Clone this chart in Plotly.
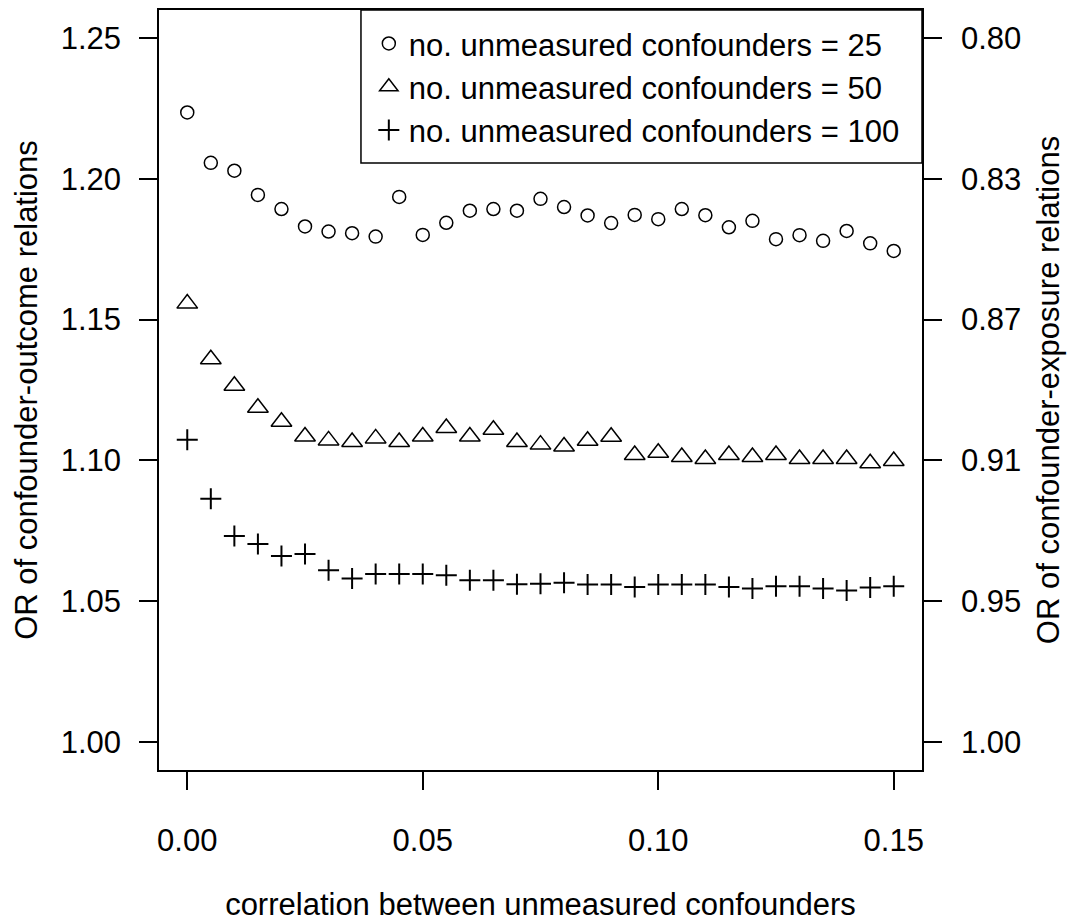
import plotly.graph_objects as go

# correlation between unmeasured confounders
corr = [0.000, 0.005, 0.010, 0.015, 0.020, 0.025, 0.030, 0.035, 0.040, 0.045,
        0.050, 0.055, 0.060, 0.065, 0.070, 0.075, 0.080, 0.085, 0.090, 0.095,
        0.100, 0.105, 0.110, 0.115, 0.120, 0.125, 0.130, 0.135, 0.140, 0.145, 0.150]

# OR of confounder-outcome relations
or_25 = [1.2236, 1.2057, 1.2029, 1.1943, 1.1893, 1.1831, 1.1813, 1.1807, 1.1795, 1.1936,
         1.1801, 1.1844, 1.1887, 1.1893, 1.1887, 1.1929, 1.1900, 1.1870, 1.1843, 1.1872,
         1.1857, 1.1893, 1.1871, 1.1828, 1.1851, 1.1786, 1.1800, 1.1780, 1.1815, 1.1771, 1.1744]
or_50 = [1.1557, 1.1359, 1.1265, 1.1187, 1.1137, 1.1085, 1.1071, 1.1065, 1.1078, 1.1065,
         1.1085, 1.1115, 1.1085, 1.1109, 1.1065, 1.1056, 1.1049, 1.1070, 1.1084, 1.1019,
         1.1027, 1.1012, 1.1005, 1.1019, 1.1012, 1.1019, 1.1005, 1.1005, 1.1005, 1.0990, 1.0998]
or_100 = [1.1073, 1.0864, 1.0731, 1.0703, 1.0660, 1.0667, 1.0610, 1.0580, 1.0596, 1.0596,
          1.0596, 1.0592, 1.0574, 1.0574, 1.0560, 1.0562, 1.0565, 1.0559, 1.0559, 1.0550,
          1.0559, 1.0559, 1.0559, 1.0550, 1.0545, 1.0553, 1.0553, 1.0545, 1.0538, 1.0548, 1.0553]

series_names = ["no. unmeasured confounders = 25",
                "no. unmeasured confounders = 50",
                "no. unmeasured confounders = 100"]

x_ticks = [0.00, 0.05, 0.10, 0.15]
x_tick_labels = ["0.00", "0.05", "0.10", "0.15"]
left_ticks = [1.00, 1.05, 1.10, 1.15, 1.20, 1.25]
left_tick_labels = ["1.00", "1.05", "1.10", "1.15", "1.20", "1.25"]
right_tick_labels = ["1.00", "0.95", "0.91", "0.87", "0.83", "0.80"]

FONT = "Liberation Sans, Arial, sans-serif"
FS = 31
Y_RANGE = [0.99, 1.26]

fig = go.Figure()
fig.add_trace(go.Scatter(x=corr, y=or_25, mode="markers", name=series_names[0],
                         marker=dict(symbol="circle-open", size=13, color="black",
                                     line=dict(width=1.5, color="black"))))
fig.add_trace(go.Scatter(x=corr, y=or_50, mode="markers", name=series_names[1],
                         marker=dict(symbol="triangle-up-open", size=18, color="black",
                                     line=dict(width=1.5, color="black"))))
# same scale on the right axis (identical range), so it can carry this series
fig.add_trace(go.Scatter(x=corr, y=or_100, mode="markers", name=series_names[2],
                         yaxis="y2",
                         marker=dict(symbol="cross-thin-open", size=15, color="black",
                                     line=dict(width=2, color="black"))))

axis_common = dict(showgrid=False, zeroline=False, showline=True, linecolor="black",
                   linewidth=1.5, ticks="outside", ticklen=18, tickwidth=1.5,
                   tickcolor="black", automargin=False,
                   tickfont=dict(family=FONT, size=FS, color="black"))

fig.update_layout(
    width=1076, height=922,
    margin=dict(l=159, r=154, t=10, b=152),
    paper_bgcolor="white", plot_bgcolor="white",
    font=dict(family=FONT, size=FS, color="black"),
    xaxis=dict(range=[-0.006, 0.156], tickvals=x_ticks, ticktext=x_tick_labels,
               mirror=True, ticklabelstandoff=24,
               title=dict(text="correlation between unmeasured confounders",
                          font=dict(family=FONT, size=FS), standoff=50),
               **axis_common),
    yaxis=dict(range=Y_RANGE, tickvals=left_ticks, ticktext=left_tick_labels,
               mirror=True, ticklabelstandoff=12,
               title=dict(text="OR of confounder-outcome relations",
                          font=dict(family=FONT, size=FS), standoff=14),
               **axis_common),
    yaxis2=dict(range=Y_RANGE, tickvals=left_ticks, ticktext=right_tick_labels,
                overlaying="y", side="right", anchor="x", ticklabelstandoff=13,
                title=dict(text="OR of confounder-exposure relations",
                           font=dict(family=FONT, size=FS), standoff=17),
                **axis_common),
    showlegend=True,
    legend=dict(x=0.275, y=0.991, xanchor="left", yanchor="top",
                bgcolor="rgba(0,0,0,0)", borderwidth=0,
                font=dict(family=FONT, size=FS, color="black"),
                itemsizing="trace"),
    shapes=[dict(type="rect", xref="paper", yref="paper",
                 x0=0.2647, x1=1.0, y0=0.7987, y1=1.0,
                 line=dict(color="black", width=1.5), fillcolor="rgba(0,0,0,0)")],
)

fig.write_html("out.html")
